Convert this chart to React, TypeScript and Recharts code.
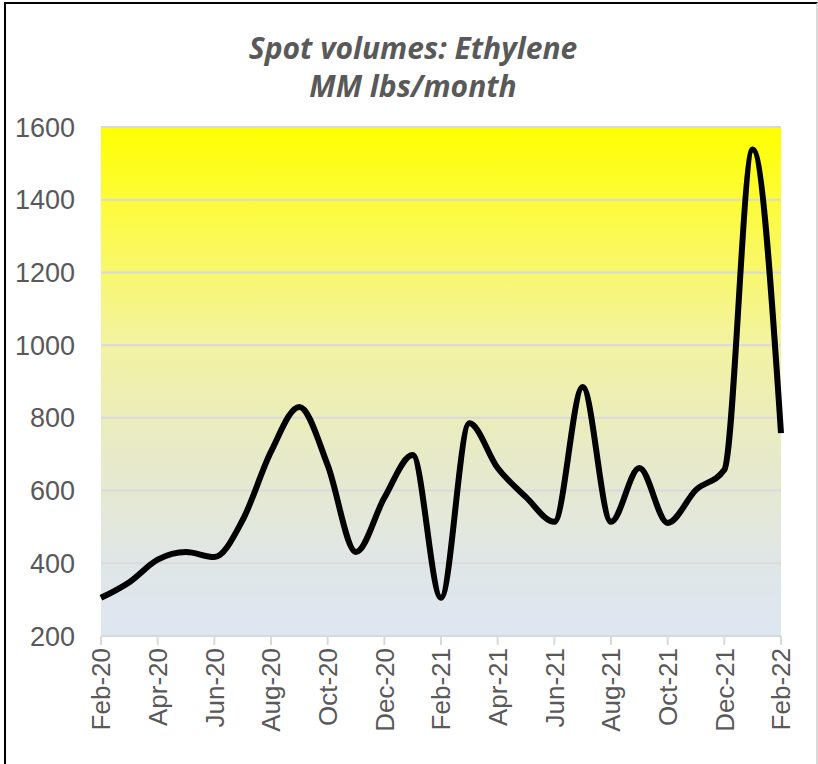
import { CartesianGrid, Line, LineChart, XAxis, YAxis } from "recharts";

const months = [
  "Feb-20", "Mar-20", "Apr-20", "May-20", "Jun-20", "Jul-20", "Aug-20", "Sep-20", "Oct-20",
  "Nov-20", "Dec-20", "Jan-21", "Feb-21", "Mar-21", "Apr-21", "May-21", "Jun-21", "Jul-21",
  "Aug-21", "Sep-21", "Oct-21", "Nov-21", "Dec-21", "Jan-22", "Feb-22",
];
const volumes = [
  305, 348, 410, 431, 417, 519, 707, 830, 670, 431, 580, 698, 305, 785, 662, 582, 514, 885,
  514, 662, 511, 602, 657, 1538, 758,
];
const yTicks = [200, 400, 600, 800, 1000, 1200, 1400, 1600];

const data = months.map((m, i) => ({ month: m, volume: volumes[i] }));

const labelColor = "#595959";
const tickFont = "'Liberation Sans', Arial, sans-serif";

function MonthTick({ x, y, payload }: any) {
  return (
    <text
      x={x}
      y={y}
      transform={`rotate(-90 ${x} ${y})`}
      textAnchor="end"
      dy="0.36em"
      fill={labelColor}
      fontSize={26}
      fontFamily={tickFont}
    >
      {payload.value}
    </text>
  );
}

export default function App() {
  return (
    <div
      style={{
        position: "absolute",
        left: 0,
        top: 0,
        width: 818,
        height: 764,
        background: "#fff",
        overflow: "hidden",
      }}
    >
      <div
        style={{
          position: "absolute",
          left: 4,
          top: 2,
          width: 810,
          height: 780,
          borderLeft: "2px solid #000",
          borderTop: "2px solid #000",
          borderRight: "2px solid #d9d9d9",
        }}
      />
      <div
        style={{
          position: "absolute",
          left: 0,
          width: 826,
          top: 29,
          textAlign: "center",
          fontFamily: "'Open Sans', Lato, sans-serif",
          fontStyle: "italic",
          fontWeight: 700,
          fontSize: 30,
          lineHeight: "38px",
          color: labelColor,
        }}
      >
        Spot volumes: Ethylene
        <br />
        MM lbs/month
      </div>
      <LineChart
        width={818}
        height={764}
        data={data}
        margin={{ top: 127, right: 37, bottom: 8, left: 21 }}
      >
        <defs>
          <linearGradient id="plotBg" x1="0" y1="0" x2="0" y2="1">
            <stop offset="0%" stopColor="#ffff00" />
            <stop offset="20%" stopColor="#fbfa4e" />
            <stop offset="42%" stopColor="#f3f3a0" />
            <stop offset="65%" stopColor="#e7eac9" />
            <stop offset="85%" stopColor="#e0e6e6" />
            <stop offset="100%" stopColor="#dee6f2" />
          </linearGradient>
        </defs>
        <CartesianGrid vertical={false} stroke="#d9d9d9" strokeWidth={2} fill="url(#plotBg)" fillOpacity={1} />
        <XAxis
          dataKey="month"
          interval={1}
          height={120}
          tick={<MonthTick />}
          tickSize={9}
          tickMargin={3}
          axisLine={{ stroke: "#d9d9d9", strokeWidth: 2 }}
          tickLine={{ stroke: "#d9d9d9", strokeWidth: 2 }}
        />
        <YAxis
          domain={[200, 1600]}
          ticks={yTicks}
          width={80}
          axisLine={false}
          tickLine={false}
          tickSize={0}
          tickMargin={26}
          tick={{ fontSize: 27, fill: labelColor, fontFamily: tickFont }}
        />
        <Line
          type="monotone"
          dataKey="volume"
          stroke="#000"
          strokeWidth={6}
          dot={false}
          isAnimationActive={false}
        />
      </LineChart>
    </div>
  );
}
